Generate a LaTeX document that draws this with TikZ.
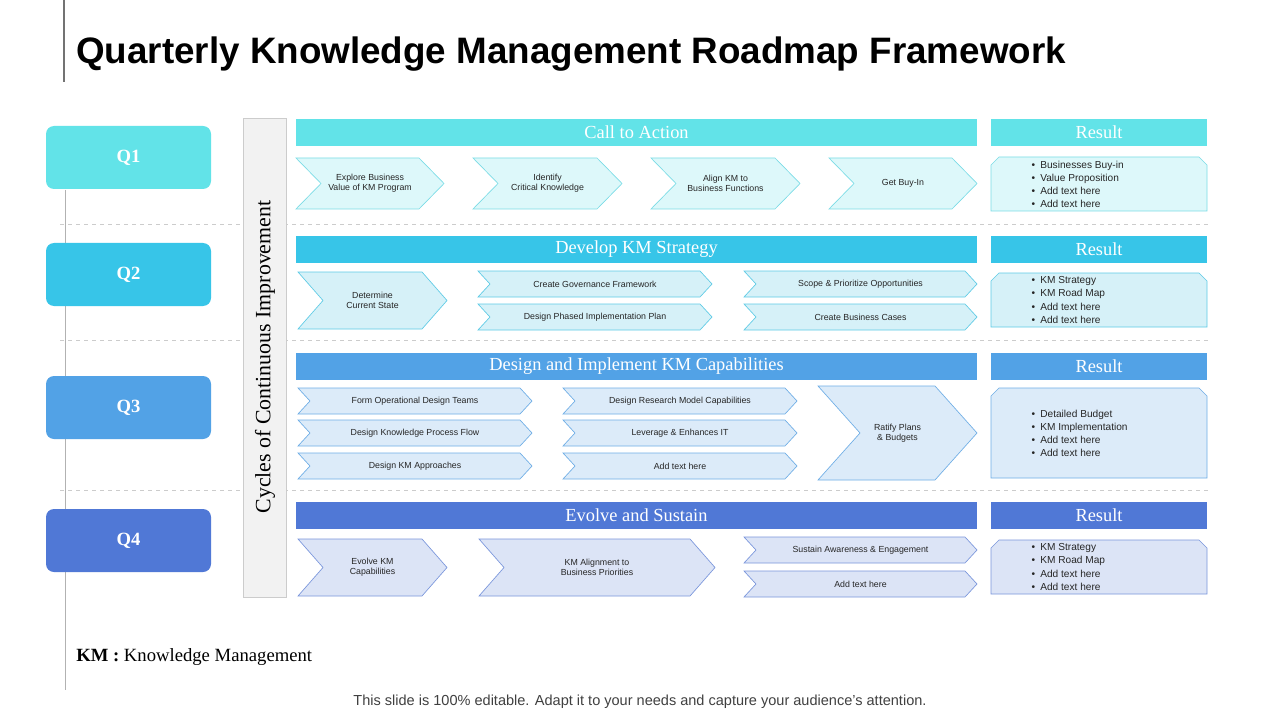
\documentclass[tikz,border=0pt]{standalone}
\usepackage{fontspec}
\setmainfont{Liberation Sans}
\newfontfamily\serifx{Liberation Serif}
\begin{document}
\begin{tikzpicture}[x=0.75pt,y=-0.75pt,
  ctext/.style={font=\fontsize{6.6}{7.8}\selectfont,align=center,text=black!85},
  r1/.style={fill=c1f,draw=c1s,line width=0.5pt},
  r2/.style={fill=c2f,draw=c2s,line width=0.5pt},
  r3/.style={fill=c3f,draw=c3s,line width=0.5pt},
  r4/.style={fill=c4f,draw=c4s,line width=0.5pt},
  qbox/.style={rounded corners=6pt,text=white,font=\serifx\bfseries\fontsize{14}{16}\selectfont},
  hdr/.style={text=white,font=\serifx\fontsize{13.8}{15}\selectfont},
  sep/.style={draw=black!20,dashed,line width=0.5pt}]
\definecolor{q1}{HTML}{62E3E8}\definecolor{q2}{HTML}{37C5E8}
\definecolor{q3}{HTML}{52A2E6}\definecolor{q4}{HTML}{5078D6}
\definecolor{c1f}{HTML}{DDF8FA}\definecolor{c1s}{HTML}{7ADCE6}
\definecolor{c2f}{HTML}{D6F1F8}\definecolor{c2s}{HTML}{5ECBE6}
\definecolor{c3f}{HTML}{DCEBF9}\definecolor{c3s}{HTML}{6FAEE6}
\definecolor{c4f}{HTML}{DCE4F6}\definecolor{c4s}{HTML}{7A96DC}
\newcommand\chev[8]{%
 \draw[#8] (#2,#3) -- (#4-#6,#3) -- (#4,{(#3+#5)/2}) -- (#4-#6,#5) -- (#2,#5) -- (#2+#6,{(#3+#5)/2}) -- cycle;
 \node[ctext] (#1) at ({(#2+#4)/2},{(#3+#5)/2}) {#7};}
\newcommand\resbox[7]{%
 \draw[#6] (#2,#3+8) -- (#2+8,#3) -- (#4-8,#3) -- (#4,#3+8) -- (#4,#5) -- (#2,#5) -- cycle;
 \node[ctext,align=left,anchor=west,font=\fontsize{7.6}{9.8}\selectfont] (#1) at (#2+36,{(#3+#5)/2}) {#7};}
\useasboundingbox (0,0) rectangle (1280,720);
\fill[white] (0,0) rectangle (1280,720);
% left lines
\draw[black!55,line width=0.8pt] (64,0) -- (64,82);
\draw[black!30,line width=0.5pt] (65,190) -- (65,690);
\node[anchor=west,inner sep=0pt,font=\bfseries\fontsize{27.6}{30}\selectfont] (title) at (76,54) {Quarterly Knowledge Management Roadmap Framework};
% separators
\draw[sep] (60,224) -- (1210,224);
\draw[sep] (60,340) -- (1210,340);
\draw[sep] (60,490) -- (1210,490);
% Q boxes
\node[qbox,fill=q1,minimum width=123.75pt,minimum height=47.25pt] (Q1) at (128.5,157.5) {Q1};
\node[qbox,fill=q2,minimum width=123.75pt,minimum height=47.25pt] (Q2) at (128.5,274.5) {Q2};
\node[qbox,fill=q3,minimum width=123.75pt,minimum height=47.25pt] (Q3) at (128.5,407.5) {Q3};
\node[qbox,fill=q4,minimum width=123.75pt,minimum height=47.25pt] (Q4) at (128.5,540.5) {Q4};
% vertical panel
\draw[fill=black!5,draw=black!20] (243,118) rectangle (286,597);
\node[rotate=90,font=\serifx\fontsize{16.4}{18}\selectfont] (cyc) at (265,357) {Cycles of Continuous Improvement};
% header bars
\fill[q1] (296,119) rectangle (977,146); \node[hdr] (h1) at (636.5,132.5) {Call to Action};
\fill[q1] (991,119) rectangle (1207,146); \node[hdr] (rh1) at (1099,132.5) {Result};
\fill[q2] (296,236) rectangle (977,263); \node[hdr] (h2) at (636.5,249.5) {Develop KM Strategy};
\fill[q2] (991,236) rectangle (1207,263); \node[hdr] (rh2) at (1099,249.5) {Result};
\fill[q3] (296,353) rectangle (977,380); \node[hdr] (h3) at (636.5,366.5) {Design and Implement KM Capabilities};
\fill[q3] (991,353) rectangle (1207,380); \node[hdr] (rh3) at (1099,366.5) {Result};
\fill[q4] (296,502) rectangle (977,529); \node[hdr] (h4) at (636.5,515.5) {Evolve and Sustain};
\fill[q4] (991,502) rectangle (1207,529); \node[hdr] (rh4) at (1099,515.5) {Result};
% row 1
\chev{a1}{296}{158}{444}{209}{25}{Explore Business\\Value of KM Program}{r1}
\chev{a2}{473}{158}{622}{209}{25}{Identify\\Critical Knowledge}{r1}
\chev{a3}{651}{158}{800}{209}{25}{Align KM to\\Business Functions}{r1}
\chev{a4}{829}{158}{977}{209}{25}{Get Buy-In}{r1}
\resbox{res1}{991}{157}{1207}{211}{r1}{\textbullet\enspace Businesses Buy-in\\\textbullet\enspace Value Proposition\\\textbullet\enspace Add text here\\\textbullet\enspace Add text here}
% row 2
\chev{b1}{298}{272}{447}{329}{25}{Determine\\Current State}{r2}
\chev{b2}{478}{271}{712}{297}{12}{Create Governance Framework}{r2}
\chev{b3}{478}{304}{712}{330}{12}{Design Phased  Implementation Plan}{r2}
\chev{b4}{744}{271}{977}{297}{12}{Scope \& Prioritize Opportunities}{r2}
\chev{b5}{744}{304}{977}{330}{12}{Create Business Cases}{r2}
\resbox{res2}{991}{273}{1207}{327}{r2}{\textbullet\enspace KM Strategy\\\textbullet\enspace KM Road Map\\\textbullet\enspace Add text here\\\textbullet\enspace Add text here}
% row 3
\chev{c1}{298}{388}{532}{414}{12}{Form Operational Design Teams}{r3}
\chev{c2}{298}{420}{532}{446}{12}{Design Knowledge  Process Flow}{r3}
\chev{c3}{298}{453}{532}{479}{12}{Design KM Approaches}{r3}
\chev{c4}{563}{388}{797}{414}{12}{Design Research Model Capabilities}{r3}
\chev{c5}{563}{420}{797}{446}{12}{Leverage \& Enhances IT}{r3}
\chev{c6}{563}{453}{797}{479}{12}{Add text here}{r3}
\chev{c7}{818}{386}{977}{480}{42}{Ratify Plans\\\& Budgets}{r3}
\resbox{res3}{991}{388}{1207}{478}{r3}{\textbullet\enspace Detailed Budget\\\textbullet\enspace KM Implementation\\\textbullet\enspace Add text here\\\textbullet\enspace Add text here}
% row 4
\chev{d1}{298}{539}{447}{596}{25}{Evolve KM\\Capabilities}{r4}
\chev{d2}{479}{539}{715}{596}{25}{KM Alignment to\\Business Priorities}{r4}
\chev{d3}{744}{537}{977}{563}{12}{Sustain Awareness \& Engagement}{r4}
\chev{d4}{744}{571}{977}{597}{12}{Add text here}{r4}
\resbox{res4}{991}{540}{1207}{594}{r4}{\textbullet\enspace KM Strategy\\\textbullet\enspace KM Road Map\\\textbullet\enspace Add text here\\\textbullet\enspace Add text here}
% footer
\node[anchor=west,inner sep=0pt,font=\serifx\fontsize{14}{16}\selectfont] (km) at (76,657) {\textbf{KM :} Knowledge Management};
\node[font=\fontsize{10.9}{12}\selectfont,text=black!75] (foot) at (640,702) {This slide is 100\% editable. Adapt it to your needs and capture your audience's attention.};
\end{tikzpicture}
\end{document}
